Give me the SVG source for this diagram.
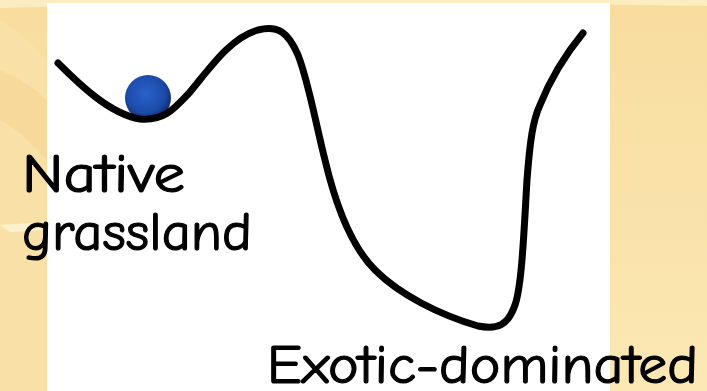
<svg xmlns="http://www.w3.org/2000/svg" width="707" height="391" viewBox="0 0 707 391">
  <defs>
    <linearGradient id="bg" x1="0" y1="0" x2="0" y2="1">
      <stop offset="0" stop-color="#f8dc9e"/>
      <stop offset="1" stop-color="#fbe8b4"/>
    </linearGradient>
    <radialGradient id="ball" cx="0.45" cy="0.4" r="0.6">
      <stop offset="0" stop-color="#2a62cc"/>
      <stop offset="0.7" stop-color="#1c4aa8"/>
      <stop offset="1" stop-color="#0e2a6a"/>
    </radialGradient>
    <style>
      .lbl { font-family: "Comic Neue", "DejaVu Sans", "Liberation Sans", sans-serif; font-size: 55px; fill: #000; stroke: #000; stroke-width: 1.2px; }
      .curve { fill: none; stroke: #000; stroke-width: 7; stroke-linecap: round; stroke-linejoin: round; }
    </style>
  </defs>
  <g id="background">
    <rect x="0" y="0" width="707" height="391" fill="url(#bg)"/>
    <path d="M0 0 H707 V6 Q300 0 0 8 Z" fill="#fcedc0"/>
    <path d="M0 20 Q30 40 47 60 V391 H0 Z" fill="#f9e0a6"/>
    <path d="M0 70 Q25 80 47 100 V160 Q20 130 0 120 Z" fill="#f7d99c"/>
    <path d="M0 225 L47 222 V230 L10 232 Z" fill="#fdf0cc"/>
    <rect x="47" y="3" width="563" height="388" fill="#ffffff"/>
  </g>
  <g id="ball-node">
    <circle cx="148" cy="98" r="23" fill="url(#ball)"/>
  </g>
  <g id="connectors">
    <path class="curve" d="M58 63 C80 85 110 114 140 119 C165 121 175 108 190 92 C210 68 230 38 258 30 C278 25 288 32 298 55 C308 80 315 120 325 160 C338 215 355 250 375 270 C400 295 440 315 478 326 C498 330 508 325 515 305 C522 285 524 230 527 180 C530 140 533 120 540 105 C550 80 565 55 583 33"/>
  </g>
  <g id="label-native">
    <text class="lbl" x="22" y="192" textLength="163" lengthAdjust="spacingAndGlyphs">Native</text>
    <text class="lbl" x="22" y="250" textLength="230" lengthAdjust="spacingAndGlyphs">grassland</text>
  </g>
  <g id="label-exotic">
    <text class="lbl" x="267" y="383" textLength="431" lengthAdjust="spacingAndGlyphs">Exotic-dominated</text>
  </g>
</svg>
